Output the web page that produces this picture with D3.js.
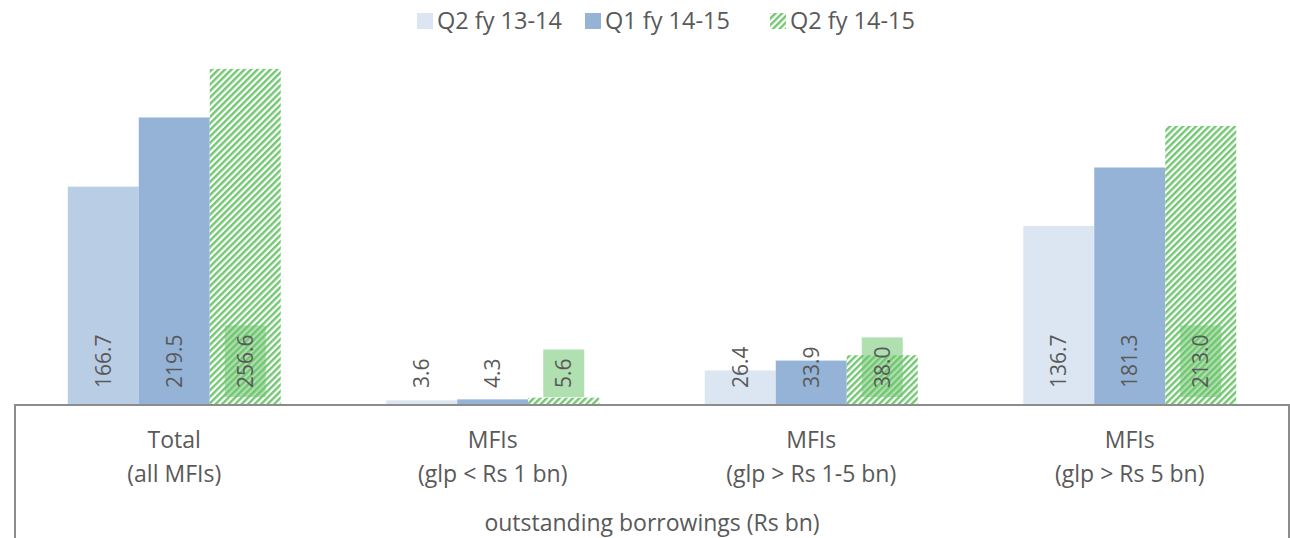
<!DOCTYPE html>
<html>
<head>
<meta charset="utf-8">
<script src="https://cdn.jsdelivr.net/npm/d3@7"></script>
<style>
  body { margin: 0; background: #fff; }
  text { font-family: "Open Sans", "Liberation Sans", sans-serif; fill: #595959; }
</style>
</head>
<body>
<svg id="chart"></svg>
<script>
// chart data
const categories = ["Total|(all MFIs)", "MFIs|(glp < Rs 1 bn)", "MFIs|(glp > Rs 1-5 bn)", "MFIs|(glp > Rs 5 bn)"];
const seriesNames = ["Q2 fy 13-14", "Q1 fy 14-15", "Q2 fy 14-15"];
const q2fy1314 = [166.7, 3.6, 26.4, 136.7];
const q1fy1415 = [219.5, 4.3, 33.9, 181.3];
const q2fy1415 = [256.6, 5.6, 38.0, 213.0];
const axisTitle = "outstanding borrowings (Rs bn)";

const width = 1290, height = 538;
const baseY = 405, left = 15, right = 1289;

const svg = d3.select("#chart").attr("width", width).attr("height", height);

// hatch pattern for the last series
const defs = svg.append("defs");
const pat = defs.append("pattern")
    .attr("id", "hatch")
    .attr("patternUnits", "userSpaceOnUse")
    .attr("width", 4.6)
    .attr("height", 10)
    .attr("patternTransform", "rotate(45)");
pat.append("rect").attr("width", 4.6).attr("height", 10).attr("fill", "#fff");
pat.append("rect").attr("width", 2.4).attr("height", 10).attr("fill", "#72c872");

const seriesValues = [q2fy1314, q1fy1415, q2fy1415];
const colorFor = (s, c) => {
    if (s === 0) return c === 0 ? "#b9cde5" : "#dce6f2";
    if (s === 1) return "#95b3d7";
    return "url(#hatch)";
};

// scales
const x0 = d3.scaleBand().domain(categories).range([left, right]).padding(0);
const x1 = d3.scaleBand().domain(seriesNames).range([0, x0.bandwidth()])
    .paddingInner(0).paddingOuter(0.743);
const y = d3.scaleLinear().domain([0, 300]).range([baseY, 12]);

const rows = [];
categories.forEach((c, ci) => {
    seriesNames.forEach((s, si) => {
        rows.push({cat: c, ci: ci, series: s, si: si, value: seriesValues[si][ci]});
    });
});

// bars
svg.append("g").selectAll("rect")
    .data(rows)
    .join("rect")
    .attr("x", d => x0(d.cat) + x1(d.series))
    .attr("y", d => y(d.value))
    .attr("width", x1.bandwidth())
    .attr("height", d => baseY - y(d.value))
    .attr("fill", d => colorFor(d.si, d.ci));

// data labels (rotated)
const labelG = svg.append("g");
rows.forEach(d => {
    const cx = x0(d.cat) + x1(d.series) + x1.bandwidth() / 2;
    const g = labelG.append("g").attr("transform", `translate(${cx},${baseY - 17}) rotate(-90)`);
    const t = g.append("text")
        .attr("x", 0)
        .attr("y", 0)
        .attr("dy", "0.36em")
        .style("font-size", "21px")
        .text(d.value.toFixed(1));
    if (d.si === 2) {
        const bb = t.node().getBBox();
        g.insert("rect", "text")
            .attr("x", bb.x - 9)
            .attr("y", -20.5)
            .attr("width", bb.width + 18)
            .attr("height", 41)
            .attr("fill", "#70c56f")
            .attr("fill-opacity", 0.55);
    }
});

// axis box
const axisG = svg.append("g");
axisG.append("path")
    .attr("d", `M${left},${height} V${baseY} H${right} V${height}`)
    .attr("fill", "none")
    .attr("stroke", "#8c8c8c")
    .attr("stroke-width", 2);

// category labels
categories.forEach(c => {
    const lines = c.split("|");
    const t = axisG.append("text")
        .attr("x", x0(c) + x0.bandwidth() / 2)
        .attr("y", 448)
        .attr("text-anchor", "middle")
        .style("font-size", "23px");
    lines.forEach((l, i) => {
        t.append("tspan")
            .attr("x", x0(c) + x0.bandwidth() / 2)
            .attr("dy", i === 0 ? 0 : 34)
            .text(l);
    });
});

axisG.append("text")
    .attr("x", (left + right) / 2)
    .attr("y", 531)
    .attr("text-anchor", "middle")
    .style("font-size", "23px")
    .text(axisTitle);

// legend
const legendX = [417, 585, 770];
const legend = svg.append("g");
seriesNames.forEach((s, i) => {
    legend.append("rect")
        .attr("x", legendX[i])
        .attr("y", 13)
        .attr("width", 16)
        .attr("height", 16)
        .attr("fill", i === 0 ? "#dce6f2" : colorFor(i, 0));
    legend.append("text")
        .attr("x", legendX[i] + 20)
        .attr("y", 21)
        .attr("dy", "0.35em")
        .style("font-size", "23.5px")
        .text(s);
});
</script>
</body>
</html>
